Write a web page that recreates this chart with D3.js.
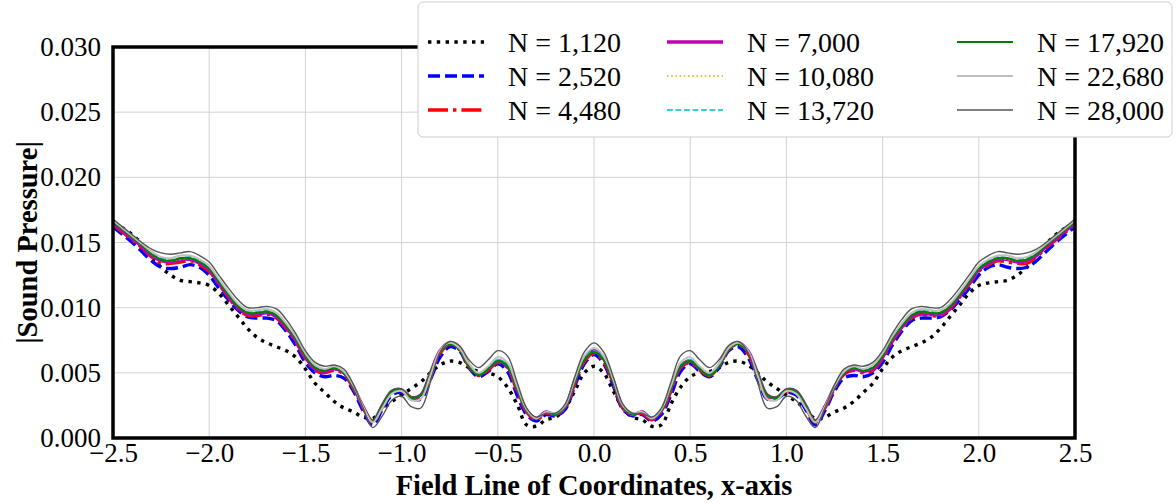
<!DOCTYPE html>
<html><head><meta charset="utf-8">
<script src="https://cdn.jsdelivr.net/npm/d3@7"></script>
<style>html,body{margin:0;padding:0;background:#fff}svg{display:block}</style>
</head><body><svg id="c" width="1176" height="504"></svg>
<script>
const xs = [-2.50,-2.45,-2.40,-2.35,-2.30,-2.25,-2.20,-2.15,-2.10,-2.05,
-2.00,-1.95,-1.90,-1.85,-1.80,-1.75,-1.70,-1.65,-1.60,-1.55,
-1.50,-1.45,-1.40,-1.35,-1.30,-1.25,-1.20,-1.15,-1.10,-1.05,
-1.00,-0.95,-0.90,-0.85,-0.80,-0.75,-0.70,-0.65,-0.60,-0.55,
-0.50,-0.45,-0.40,-0.35,-0.30,-0.25,-0.20,-0.15,-0.10,-0.05,
0.00,
0.05,0.10,0.15,0.20,0.25,0.30,0.35,0.40,0.45,0.50,
0.55,0.60,0.65,0.70,0.75,0.80,0.85,0.90,0.95,1.00,
1.05,1.10,1.15,1.20,1.25,1.30,1.35,1.40,1.45,1.50,
1.55,1.60,1.65,1.70,1.75,1.80,1.85,1.90,1.95,2.00,
2.05,2.10,2.15,2.20,2.25,2.30,2.35,2.40,2.45,2.50];

const n1120 = [0.0163,0.0161,0.0156,0.0149,0.0140,0.0131,0.0125,0.0121,0.0120,0.0119,
0.0117,0.0111,0.0102,0.0093,0.0084,0.0077,0.0073,0.0070,0.0067,0.0062,
0.0053,0.0042,0.0035,0.0028,0.0023,0.0020,0.0016,0.0015,0.0022,0.0028,
0.0033,0.0038,0.0043,0.0050,0.0056,0.0059,0.0058,0.0054,0.0051,0.0050,
0.0047,0.0039,0.0026,0.0010,0.0009,0.0014,0.0016,0.0023,0.0036,0.0050,
0.0055,
0.0050,0.0036,0.0023,0.0016,0.0014,0.0009,0.0010,0.0026,0.0039,0.0047,
0.0050,0.0051,0.0054,0.0058,0.0059,0.0056,0.0050,0.0043,0.0038,0.0033,
0.0028,0.0022,0.0015,0.0016,0.0020,0.0023,0.0028,0.0035,0.0042,0.0053,
0.0062,0.0067,0.0070,0.0073,0.0077,0.0084,0.0093,0.0102,0.0111,0.0117,
0.0119,0.0120,0.0121,0.0125,0.0131,0.0140,0.0149,0.0156,0.0161,0.0163];

const n2520 = [0.0162,0.0156,0.0150,0.0143,0.0136,0.0131,0.0130,0.0131,0.0133,0.0131,
0.0125,0.0115,0.0106,0.0098,0.0093,0.0092,0.0092,0.0090,0.0082,0.0071,
0.0058,0.0050,0.0047,0.0048,0.0046,0.0036,0.0021,0.0010,0.0022,0.0033,
0.0035,0.0030,0.0030,0.0045,0.0062,0.0070,0.0067,0.0054,0.0047,0.0051,
0.0057,0.0051,0.0033,0.0018,0.0013,0.0018,0.0017,0.0022,0.0040,0.0057,
0.0064,
0.0057,0.0040,0.0022,0.0017,0.0018,0.0013,0.0018,0.0033,0.0051,0.0057,
0.0051,0.0047,0.0054,0.0067,0.0070,0.0062,0.0045,0.0030,0.0030,0.0035,
0.0033,0.0022,0.0010,0.0021,0.0036,0.0046,0.0048,0.0047,0.0050,0.0058,
0.0071,0.0082,0.0090,0.0092,0.0092,0.0093,0.0098,0.0106,0.0115,0.0125,
0.0131,0.0133,0.0131,0.0130,0.0131,0.0136,0.0143,0.0150,0.0156,0.0162];

const n4480 = [0.0164,0.0158,0.0152,0.0146,0.0139,0.0134,0.0134,0.0135,0.0136,0.0133,
0.0128,0.0118,0.0108,0.0099,0.0094,0.0094,0.0095,0.0092,0.0084,0.0074,
0.0061,0.0052,0.0050,0.0052,0.0049,0.0038,0.0023,0.0012,0.0024,0.0035,
0.0036,0.0031,0.0032,0.0048,0.0065,0.0072,0.0068,0.0055,0.0048,0.0052,
0.0058,0.0054,0.0036,0.0020,0.0014,0.0019,0.0018,0.0023,0.0042,0.0059,
0.0065,
0.0059,0.0042,0.0023,0.0018,0.0019,0.0014,0.0020,0.0036,0.0054,0.0058,
0.0052,0.0048,0.0055,0.0068,0.0072,0.0065,0.0048,0.0032,0.0031,0.0036,
0.0035,0.0024,0.0012,0.0023,0.0038,0.0049,0.0052,0.0050,0.0052,0.0061,
0.0074,0.0084,0.0092,0.0095,0.0094,0.0094,0.0099,0.0108,0.0118,0.0128,
0.0133,0.0136,0.0135,0.0134,0.0134,0.0139,0.0146,0.0152,0.0158,0.0164];

const n7000 = [0.0165,0.0159,0.0153,0.0147,0.0140,0.0136,0.0135,0.0137,0.0137,0.0134,
0.0129,0.0119,0.0109,0.0100,0.0095,0.0095,0.0096,0.0093,0.0085,0.0075,
0.0062,0.0053,0.0051,0.0053,0.0050,0.0039,0.0024,0.0013,0.0025,0.0036,
0.0037,0.0031,0.0033,0.0050,0.0067,0.0073,0.0069,0.0056,0.0049,0.0053,
0.0059,0.0055,0.0038,0.0021,0.0015,0.0020,0.0018,0.0024,0.0044,0.0061,
0.0067,
0.0061,0.0044,0.0024,0.0018,0.0020,0.0015,0.0021,0.0038,0.0055,0.0059,
0.0053,0.0049,0.0056,0.0069,0.0073,0.0067,0.0050,0.0033,0.0031,0.0037,
0.0036,0.0025,0.0013,0.0024,0.0039,0.0050,0.0053,0.0051,0.0053,0.0062,
0.0075,0.0085,0.0093,0.0096,0.0095,0.0095,0.0100,0.0109,0.0119,0.0129,
0.0134,0.0137,0.0137,0.0135,0.0136,0.0140,0.0147,0.0153,0.0159,0.0165];

const n10080 = [0.0166,0.0160,0.0154,0.0148,0.0141,0.0137,0.0136,0.0137,0.0138,0.0135,
0.0130,0.0120,0.0110,0.0101,0.0096,0.0096,0.0097,0.0094,0.0086,0.0076,
0.0063,0.0054,0.0052,0.0054,0.0050,0.0039,0.0024,0.0013,0.0025,0.0036,
0.0037,0.0031,0.0033,0.0050,0.0066,0.0072,0.0068,0.0055,0.0048,0.0053,
0.0059,0.0055,0.0038,0.0021,0.0015,0.0020,0.0018,0.0024,0.0043,0.0060,
0.0066,
0.0060,0.0043,0.0024,0.0018,0.0020,0.0015,0.0021,0.0038,0.0055,0.0059,
0.0053,0.0048,0.0055,0.0068,0.0072,0.0066,0.0050,0.0033,0.0031,0.0037,
0.0036,0.0025,0.0013,0.0024,0.0039,0.0050,0.0054,0.0052,0.0054,0.0063,
0.0076,0.0086,0.0094,0.0097,0.0096,0.0096,0.0101,0.0110,0.0120,0.0130,
0.0135,0.0138,0.0137,0.0136,0.0137,0.0141,0.0148,0.0154,0.0160,0.0166];

const n13720 = [0.0166,0.0160,0.0154,0.0148,0.0142,0.0138,0.0137,0.0138,0.0139,0.0136,
0.0131,0.0121,0.0111,0.0102,0.0097,0.0097,0.0098,0.0095,0.0087,0.0077,
0.0064,0.0055,0.0053,0.0054,0.0051,0.0039,0.0024,0.0013,0.0025,0.0036,
0.0037,0.0031,0.0033,0.0050,0.0066,0.0072,0.0068,0.0056,0.0049,0.0054,
0.0060,0.0056,0.0039,0.0021,0.0015,0.0020,0.0018,0.0024,0.0044,0.0061,
0.0067,
0.0061,0.0044,0.0024,0.0018,0.0020,0.0015,0.0021,0.0039,0.0056,0.0060,
0.0054,0.0049,0.0056,0.0068,0.0072,0.0066,0.0050,0.0033,0.0031,0.0037,
0.0036,0.0025,0.0013,0.0024,0.0039,0.0051,0.0054,0.0053,0.0055,0.0064,
0.0077,0.0087,0.0095,0.0098,0.0097,0.0097,0.0102,0.0111,0.0121,0.0131,
0.0136,0.0139,0.0138,0.0137,0.0138,0.0142,0.0148,0.0154,0.0160,0.0166];

const n17920 = [0.0166,0.0160,0.0154,0.0148,0.0141,0.0137,0.0136,0.0138,0.0138,0.0135,
0.0130,0.0120,0.0110,0.0101,0.0096,0.0096,0.0097,0.0094,0.0086,0.0076,
0.0063,0.0054,0.0052,0.0054,0.0050,0.0039,0.0024,0.0013,0.0025,0.0036,
0.0037,0.0031,0.0033,0.0050,0.0066,0.0072,0.0068,0.0055,0.0048,0.0053,
0.0059,0.0055,0.0038,0.0021,0.0015,0.0020,0.0018,0.0024,0.0043,0.0060,
0.0066,
0.0060,0.0043,0.0024,0.0018,0.0020,0.0015,0.0021,0.0038,0.0055,0.0059,
0.0053,0.0048,0.0055,0.0068,0.0072,0.0066,0.0050,0.0033,0.0031,0.0037,
0.0036,0.0025,0.0013,0.0024,0.0039,0.0050,0.0054,0.0052,0.0054,0.0063,
0.0076,0.0086,0.0094,0.0097,0.0096,0.0096,0.0101,0.0110,0.0120,0.0130,
0.0135,0.0138,0.0138,0.0136,0.0137,0.0141,0.0148,0.0154,0.0160,0.0166];

const n22680 = [0.0167,0.0161,0.0155,0.0149,0.0143,0.0139,0.0138,0.0140,0.0140,0.0137,
0.0132,0.0122,0.0112,0.0103,0.0098,0.0098,0.0099,0.0096,0.0088,0.0078,
0.0065,0.0056,0.0053,0.0055,0.0051,0.0040,0.0024,0.0012,0.0023,0.0034,
0.0036,0.0029,0.0030,0.0048,0.0067,0.0073,0.0069,0.0057,0.0050,0.0055,
0.0062,0.0058,0.0040,0.0022,0.0015,0.0020,0.0019,0.0025,0.0045,0.0063,
0.0069,
0.0063,0.0045,0.0025,0.0019,0.0020,0.0015,0.0022,0.0040,0.0058,0.0062,
0.0055,0.0050,0.0057,0.0069,0.0073,0.0067,0.0048,0.0030,0.0029,0.0036,
0.0034,0.0023,0.0012,0.0024,0.0040,0.0051,0.0055,0.0053,0.0056,0.0065,
0.0078,0.0088,0.0096,0.0099,0.0098,0.0098,0.0103,0.0112,0.0122,0.0132,
0.0137,0.0140,0.0140,0.0138,0.0139,0.0143,0.0149,0.0155,0.0161,0.0167];

const n28000 = [0.0168,0.0162,0.0156,0.0150,0.0145,0.0142,0.0141,0.0142,0.0143,0.0140,
0.0135,0.0125,0.0115,0.0106,0.0100,0.0100,0.0101,0.0099,0.0091,0.0080,
0.0067,0.0058,0.0055,0.0056,0.0053,0.0041,0.0023,0.0008,0.0017,0.0029,
0.0032,0.0024,0.0023,0.0043,0.0066,0.0074,0.0071,0.0060,0.0054,0.0060,
0.0067,0.0063,0.0043,0.0023,0.0016,0.0019,0.0019,0.0026,0.0047,0.0066,
0.0073,
0.0066,0.0047,0.0026,0.0019,0.0019,0.0016,0.0023,0.0043,0.0063,0.0067,
0.0060,0.0054,0.0060,0.0071,0.0074,0.0066,0.0043,0.0023,0.0024,0.0032,
0.0029,0.0017,0.0008,0.0023,0.0041,0.0053,0.0056,0.0055,0.0058,0.0067,
0.0080,0.0091,0.0099,0.0101,0.0100,0.0100,0.0106,0.0115,0.0125,0.0135,
0.0140,0.0143,0.0142,0.0141,0.0142,0.0145,0.0150,0.0156,0.0162,0.0168];

const seriesNames = ["N = 1,120","N = 2,520","N = 4,480","N = 7,000","N = 10,080","N = 13,720","N = 17,920","N = 22,680","N = 28,000"];
const seriesValues = [n1120,n2520,n4480,n7000,n10080,n13720,n17920,n22680,n28000];
const xTicks = [-2.5,-2.0,-1.5,-1.0,-0.5,0.0,0.5,1.0,1.5,2.0,2.5];
const yTicks = [0.000,0.005,0.010,0.015,0.020,0.025,0.030];

const styles = [
  {color:"#000000", width:3.4, dash:"3.4,5.4"},
  {color:"#0000ff", width:3.4, dash:"12,5"},
  {color:"#ff0000", width:3.4, dash:"20,5,3.4,5"},
  {color:"#bf00bf", width:3.4, dash:null},
  {color:"#bfbf00", width:1.6, dash:"1.6,2.6"},
  {color:"#00bfbf", width:1.6, dash:"5.9,2.6"},
  {color:"#008000", width:2.2, dash:null},
  {color:"#c0c0c0", width:2.0, dash:null},
  {color:"#555555", width:1.4, dash:null}
];

const svg = d3.select("#c");
const L=113, R=1075, T=47, B=438;
const x = d3.scaleLinear().domain([-2.5,2.5]).range([L,R]);
const y = d3.scaleLinear().domain([0,0.03]).range([B,T]);
const font = "'Liberation Serif','Times New Roman',serif";

// grid
const g = svg.append("g");
g.selectAll(".vg").data(xTicks).enter().append("line")
  .attr("x1",d=>x(d)).attr("x2",d=>x(d)).attr("y1",T).attr("y2",B)
  .attr("stroke","#d3d3d3").attr("stroke-width",1);
g.selectAll(".hg").data(yTicks).enter().append("line")
  .attr("x1",L).attr("x2",R).attr("y1",d=>y(d)).attr("y2",d=>y(d))
  .attr("stroke","#d3d3d3").attr("stroke-width",1);

svg.append("clipPath").attr("id","clip").append("rect")
  .attr("x",L).attr("y",T).attr("width",R-L).attr("height",B-T);

const line = d3.line().x(d=>x(d[0])).y(d=>y(d[1])).curve(d3.curveCatmullRom.alpha(0.5));
const lines = svg.append("g").attr("clip-path","url(#clip)");
seriesValues.forEach((vals,i)=>{
  const s = styles[i];
  lines.append("path").datum(xs.map((xv,j)=>[xv,vals[j]]))
    .attr("d",line).attr("fill","none").attr("stroke",s.color)
    .attr("stroke-width",s.width).attr("stroke-dasharray",s.dash)
    .attr("stroke-linejoin","round");
});

// frame
svg.append("rect").attr("x",L).attr("y",T).attr("width",R-L).attr("height",B-T)
  .attr("fill","none").attr("stroke","#000").attr("stroke-width",3.5);

// axes (tick labels)
const xAxis = d3.axisBottom(x).tickValues(xTicks).tickSize(0).tickPadding(5)
  .tickFormat(d=>d3.format(".1f")(d).replace("-","\u2212"));
const xa = svg.append("g").attr("transform",`translate(0,${B})`).call(xAxis);
xa.select(".domain").remove();
xa.selectAll("text").attr("font-family",font).attr("font-size",27).attr("fill","#000").attr("dy","0.71em");

const yAxis = d3.axisLeft(y).tickValues(yTicks).tickSize(0).tickPadding(12)
  .tickFormat(d3.format(".3f"));
const ya = svg.append("g").attr("transform",`translate(${L},0)`).call(yAxis);
ya.select(".domain").remove();
ya.selectAll("text").attr("font-family",font).attr("font-size",27).attr("fill","#000");

svg.append("text").attr("x",(L+R)/2).attr("y",495).attr("text-anchor","middle")
  .attr("font-family",font).attr("font-weight","bold").attr("font-size",28.5)
  .text("Field Line of Coordinates, x-axis");
svg.append("text").attr("transform",`translate(37,${(T+B)/2}) rotate(-90)`).attr("text-anchor","middle")
  .attr("font-family",font).attr("font-weight","bold").attr("font-size",28.5)
  .text("|Sound Pressure|");

// legend
const lg = svg.append("g");
lg.append("rect").attr("x",418).attr("y",2).attr("width",754).attr("height",135).attr("rx",5)
  .attr("fill","#fff").attr("stroke","#cccccc").attr("stroke-width",1);
const colX = [428, 667, 957];
const rowY = [42, 76, 110];
seriesNames.forEach((name,i)=>{
  const c = Math.floor(i/3), r = i%3, s = styles[i];
  lg.append("line").attr("x1",colX[c]).attr("x2",colX[c]+56).attr("y1",rowY[r]).attr("y2",rowY[r])
    .attr("stroke",s.color).attr("stroke-width",s.width).attr("stroke-dasharray",s.dash);
  lg.append("text").attr("x",colX[c]+80).attr("y",rowY[r]).attr("dy","0.35em")
    .attr("font-family",font).attr("font-size",28).text(name);
});
</script></body></html>
